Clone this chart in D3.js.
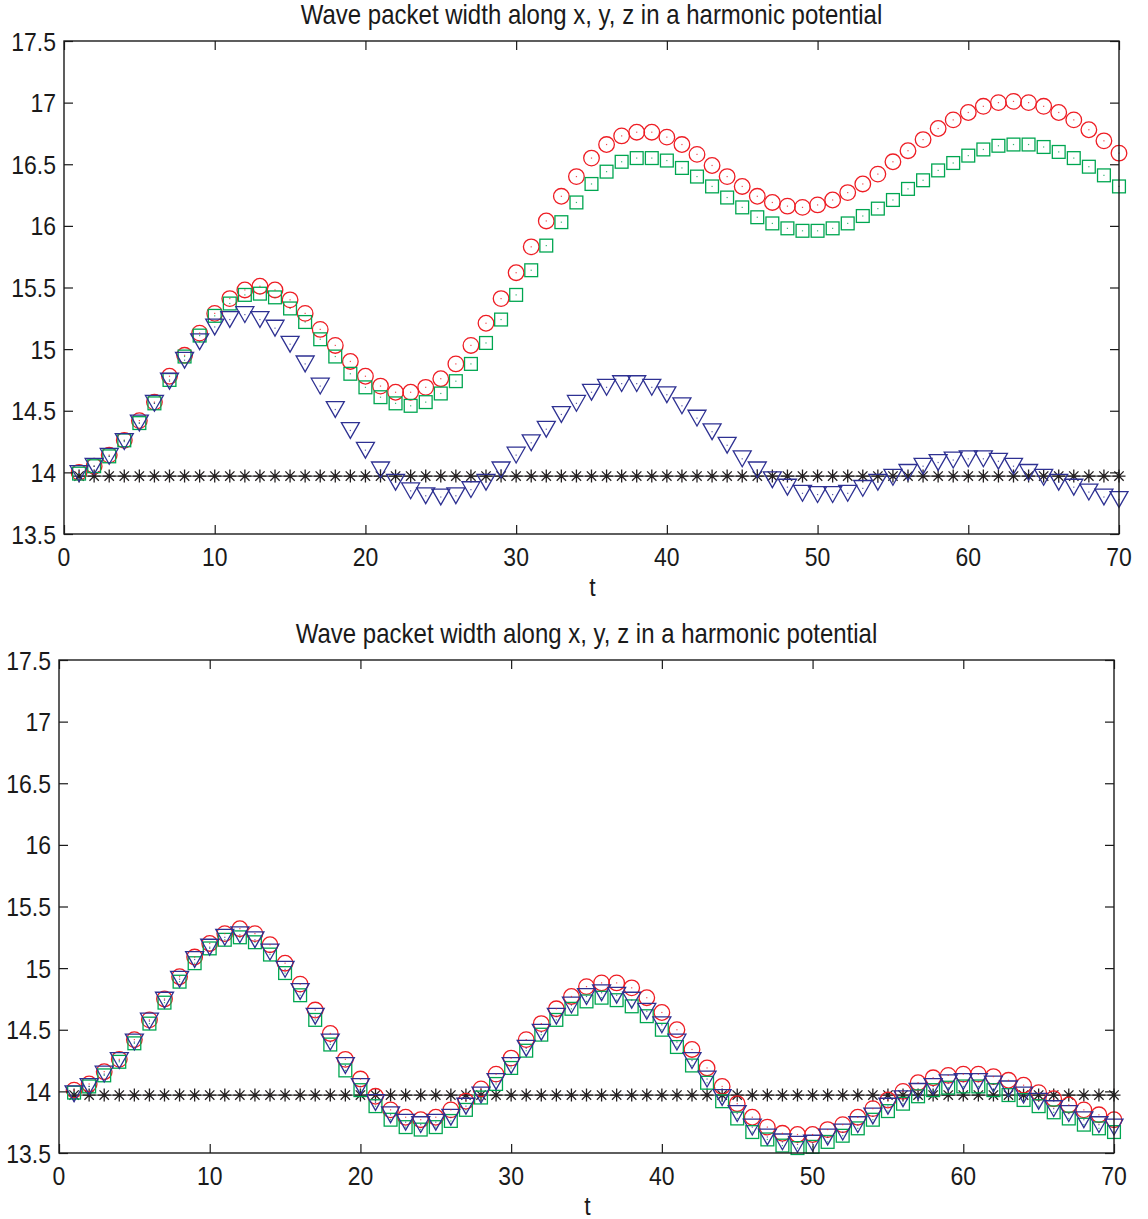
<!DOCTYPE html>
<html>
<head>
<meta charset="utf-8">
<script src="https://cdn.jsdelivr.net/npm/d3@7"></script>
<style>
  html, body { margin: 0; padding: 0; background: #fff; }
  svg { display: block; }
  text { font-family: "Liberation Sans", Arial, Helvetica, sans-serif; fill: #1a1a1a; }
</style>
</head>
<body>
<script>
// Time steps
const tValues = d3.range(1, 71);

// Axis ticks
const xTicks = [0, 10, 20, 30, 40, 50, 60, 70];
const yTicks = [13.5, 14, 14.5, 15, 15.5, 16, 16.5, 17, 17.5];
const yTickLabels = ["13.5", "14", "14.5", "15", "15.5", "16", "16.5", "17", "17.5"];

const titleText = "Wave packet width along x, y, z in a harmonic potential";
const xLabelText = "t";

// Upper panel: widths along x (circles), y (squares), z (triangles), reference (stars)
const topX = [
  14.00,14.05,14.14,14.26,14.42,14.57,14.78,14.95,15.13,15.29,
  15.41,15.48,15.51,15.48,15.40,15.29,15.16,15.03,14.90,14.78,
  14.70,14.65,14.65,14.69,14.76,14.88,15.03,15.21,15.41,15.62,
  15.83,16.04,16.24,16.40,16.55,16.66,16.73,16.76,16.76,16.72,
  16.66,16.58,16.49,16.40,16.32,16.24,16.19,16.16,16.15,16.17,
  16.21,16.27,16.34,16.42,16.52,16.61,16.70,16.79,16.86,16.92,
  16.97,17.00,17.01,17.00,16.97,16.92,16.86,16.78,16.69,16.59
];
const topY = [
  13.99,14.05,14.13,14.26,14.40,14.56,14.75,14.94,15.11,15.27,
  15.37,15.44,15.45,15.42,15.33,15.22,15.08,14.94,14.80,14.69,
  14.61,14.56,14.54,14.57,14.64,14.74,14.88,15.05,15.24,15.44,
  15.64,15.84,16.03,16.19,16.34,16.44,16.52,16.55,16.55,16.53,
  16.47,16.40,16.32,16.23,16.15,16.07,16.02,15.98,15.96,15.96,
  15.98,16.02,16.08,16.14,16.21,16.30,16.37,16.45,16.51,16.57,
  16.62,16.65,16.66,16.66,16.64,16.60,16.55,16.48,16.41,16.32
];
const topZ = [
  13.99,14.05,14.13,14.25,14.40,14.56,14.74,14.91,15.06,15.18,
  15.24,15.28,15.24,15.17,15.04,14.88,14.70,14.51,14.34,14.18,
  14.02,13.92,13.85,13.81,13.80,13.81,13.86,13.92,14.02,14.14,
  14.24,14.35,14.47,14.56,14.65,14.69,14.72,14.72,14.69,14.63,
  14.54,14.44,14.33,14.22,14.11,14.02,13.94,13.88,13.83,13.82,
  13.82,13.83,13.87,13.92,13.96,14.00,14.05,14.08,14.10,14.11,
  14.11,14.09,14.05,14.00,13.96,13.92,13.88,13.84,13.80,13.78
];

// Lower panel
const botX = [
  14.01,14.06,14.16,14.26,14.42,14.58,14.75,14.93,15.09,15.20,
  15.28,15.32,15.28,15.19,15.04,14.87,14.66,14.47,14.26,14.10,
  13.96,13.85,13.79,13.77,13.79,13.85,13.92,14.02,14.14,14.27,
  14.42,14.55,14.67,14.77,14.85,14.88,14.88,14.84,14.76,14.64,
  14.50,14.34,14.19,14.04,13.90,13.79,13.71,13.66,13.65,13.65,
  13.69,13.73,13.79,13.86,13.93,14.00,14.07,14.11,14.13,14.14,
  14.14,14.12,14.09,14.05,13.99,13.94,13.89,13.85,13.81,13.77
];
const botY = [
  13.99,14.04,14.13,14.24,14.39,14.55,14.72,14.89,15.04,15.16,
  15.23,15.25,15.21,15.11,14.96,14.78,14.58,14.38,14.17,14.01,
  13.88,13.77,13.71,13.69,13.71,13.76,13.85,13.95,14.06,14.19,
  14.33,14.46,14.58,14.67,14.73,14.76,14.74,14.69,14.61,14.50,
  14.36,14.21,14.07,13.92,13.78,13.67,13.61,13.56,13.54,13.55,
  13.59,13.64,13.70,13.77,13.84,13.90,13.96,14.01,14.03,14.04,
  14.04,14.01,13.97,13.93,13.88,13.83,13.78,13.73,13.70,13.67
];
const botZ = [
  13.98,14.04,14.14,14.25,14.40,14.57,14.74,14.91,15.07,15.17,
  15.25,15.27,15.23,15.13,14.99,14.81,14.61,14.40,14.21,14.04,
  13.91,13.81,13.75,13.73,13.75,13.79,13.88,13.97,14.08,14.21,
  14.35,14.48,14.61,14.70,14.77,14.80,14.78,14.74,14.65,14.54,
  14.40,14.25,14.10,13.95,13.82,13.71,13.63,13.59,13.57,13.58,
  13.63,13.67,13.73,13.80,13.88,13.94,14.00,14.04,14.07,14.08,
  14.08,14.06,14.02,13.97,13.92,13.86,13.82,13.77,13.73,13.71
];

// Reference width (constant)
const refWidth = tValues.map(() => 13.97);

const W = 1148, H = 1219;
const svg = d3.select("body").append("svg").attr("width", W).attr("height", H);

const COLORS = { x: "#ee1d24", y: "#00a651", z: "#2e3192", ref: "#231f20" };

// Text is drawn slightly taller than wide, like the figure's own typeface
const TEXT_STRETCH = 1.15;
function label(parent, x, y, str, size, anchor) {
  return parent.append("text")
    .attr("transform", `translate(${x},${y}) scale(1,${TEXT_STRETCH})`)
    .attr("dy", "0.36em")
    .attr("text-anchor", anchor)
    .style("font-size", size + "px")
    .text(str);
}

function drawPanel(box, series) {
  const g = svg.append("g");
  const x = d3.scaleLinear().domain([0, 70]).range([box.left, box.right]);
  const y = d3.scaleLinear().domain([13.5, 17.5]).range([box.bottom, box.top]);

  // Title
  label(g, (box.left + box.right) / 2, box.top - 27, titleText, 24, "middle");

  // Reference line + stars
  const line = d3.line().x((d, i) => x(tValues[i])).y(d => y(d));
  g.append("path").datum(series.ref).attr("d", line)
    .attr("fill", "none").attr("stroke", "#555").attr("stroke-width", 1.2);

  const star = g.append("g").attr("stroke", COLORS.ref).attr("stroke-width", 1.3);
  const s = 6.5;
  series.ref.forEach((v, i) => {
    const cx = x(tValues[i]), cy = y(v);
    star.append("path").attr("d",
      `M${cx - s},${cy}H${cx + s}M${cx},${cy - s}V${cy + s}` +
      `M${cx - s * 0.72},${cy - s * 0.72}L${cx + s * 0.72},${cy + s * 0.72}` +
      `M${cx - s * 0.72},${cy + s * 0.72}L${cx + s * 0.72},${cy - s * 0.72}`);
  });

  // Circles (x)
  g.append("g").selectAll("circle").data(series.x).join("circle")
    .attr("cx", (d, i) => x(tValues[i])).attr("cy", d => y(d)).attr("r", 7.8)
    .attr("fill", "none").attr("stroke", COLORS.x).attr("stroke-width", 1.3);

  // Squares (y)
  const sq = 6.4;
  g.append("g").selectAll("rect").data(series.y).join("rect")
    .attr("x", (d, i) => x(tValues[i]) - sq).attr("y", d => y(d) - sq)
    .attr("width", sq * 2).attr("height", sq * 2)
    .attr("fill", "none").attr("stroke", COLORS.y).attr("stroke-width", 1.3);

  // Downward triangles (z)
  const tw = 9, th = 7.9;
  g.append("g").selectAll("path").data(series.z).join("path")
    .attr("d", (d, i) => {
      const cx = x(tValues[i]), cy = y(d);
      return `M${cx - tw},${cy - th}L${cx + tw},${cy - th}L${cx},${cy + th}Z`;
    })
    .attr("fill", "none").attr("stroke", COLORS.z).attr("stroke-width", 1.3);

  // Center dots of the data points
  [["x", series.x], ["y", series.y], ["z", series.z]].forEach(([k, arr]) => {
    g.append("g").selectAll("rect").data(arr).join("rect")
      .attr("x", (d, i) => x(tValues[i]) - 0.6).attr("y", d => y(d) - 0.6)
      .attr("width", 1.2).attr("height", 1.2).attr("fill", COLORS[k]).attr("opacity", 0.8);
  });

  // Axes: inward ticks on all four sides, labels on bottom and left
  const axisColor = "#1a1a1a";
  const tickLen = 9;
  const axes = g.append("g");

  const axB = axes.append("g").attr("transform", `translate(0,${box.bottom})`)
    .call(d3.axisBottom(x).tickValues(xTicks).tickSizeInner(-tickLen).tickSizeOuter(0).tickFormat(""));
  const axT = axes.append("g").attr("transform", `translate(0,${box.top})`)
    .call(d3.axisTop(x).tickValues(xTicks).tickSizeInner(-tickLen).tickSizeOuter(0).tickFormat(""));
  const axL = axes.append("g").attr("transform", `translate(${box.left},0)`)
    .call(d3.axisLeft(y).tickValues(yTicks).tickSizeInner(-tickLen).tickSizeOuter(0).tickFormat(""));
  const axR = axes.append("g").attr("transform", `translate(${box.right},0)`)
    .call(d3.axisRight(y).tickValues(yTicks).tickSizeInner(-tickLen).tickSizeOuter(0).tickFormat(""));
  [axB, axT, axL, axR].forEach(a => {
    a.select(".domain").remove();
    a.selectAll("line").attr("stroke", axisColor).attr("stroke-width", 1.2);
  });

  xTicks.forEach(v => label(axes, x(v), box.bottom + 22, d3.format("d")(v), 23, "middle"));
  yTicks.forEach((v, i) => label(axes, box.left - 8, y(v), yTickLabels[i], 23, "end"));

  axes.append("rect")
    .attr("x", box.left).attr("y", box.top)
    .attr("width", box.right - box.left).attr("height", box.bottom - box.top)
    .attr("fill", "none").attr("stroke", axisColor).attr("stroke-width", 1.4);

  // x label
  label(g, (box.left + box.right) / 2 + 1, box.bottom + 52, xLabelText, 23, "middle");
}

drawPanel({ left: 64, right: 1119, top: 41, bottom: 534 },
  { x: topX, y: topY, z: topZ, ref: refWidth });
drawPanel({ left: 59, right: 1114, top: 660, bottom: 1153 },
  { x: botX, y: botY, z: botZ, ref: refWidth });
</script>
</body>
</html>
